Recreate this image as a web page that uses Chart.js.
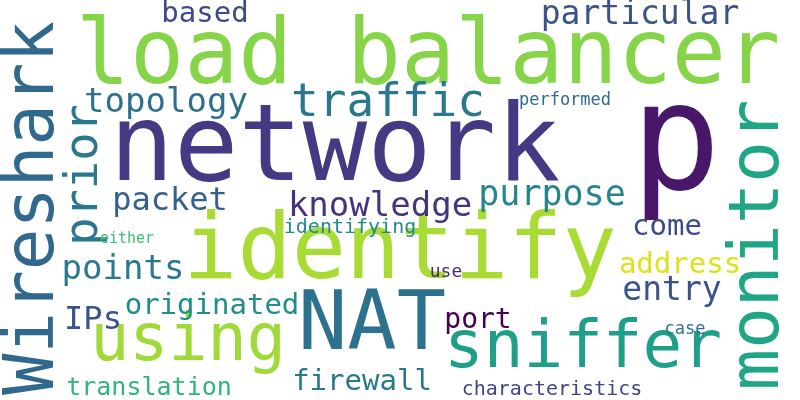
<!DOCTYPE html>
<html>
<head>
<meta charset="utf-8">
<script src="https://cdn.jsdelivr.net/npm/chart.js@4/dist/chart.umd.min.js"></script>
<style>
  html, body { margin: 0; padding: 0; background: #fff; }
  #wrap { width: 800px; height: 400px; }
</style>
</head>
<body>
<div id="wrap"><canvas id="cloud"></canvas></div>
<script>
// word cloud data: word, centre position, font size, vertical flag, colour
const words = ['load balancer', 'network', 'p', 'identify', 'NAT', 'using', 'sniffer', 'Wireshark', 'monitor',
  'traffic', 'particular', 'based', 'topology', 'prior', 'performed', 'purpose', 'knowledge', 'packet', 'come',
  'either', 'identifying', 'points', 'address', 'entry', 'originated', 'IPs', 'port', 'use', 'case', 'firewall',
  'translation', 'characteristics'];
const posX = [428, 335, 676, 400, 372, 188, 583, 35, 760,
  388, 640, 205, 166, 85, 565, 552, 380, 170, 667,
  127, 350, 123, 680, 672, 212, 93, 478, 446, 685, 362,
  149, 552];
const posY = [60, 152, 150, 255, 328, 343, 350, 208, 245,
  104, 15, 14, 103, 175, 101, 196, 207, 202, 227,
  239, 228, 270, 265, 291, 306, 321, 321, 272, 330, 382,
  388, 390];
const sizes = [90, 107, 150, 90, 82, 65, 66, 69, 69,
  46, 33, 29, 34, 47, 17, 35, 34, 32, 29,
  15, 20, 34, 29, 33, 29, 32, 28, 18, 17, 29,
  25, 20];
const vertical = [0, 0, 0, 0, 0, 0, 0, 1, 1,
  0, 0, 0, 0, 1, 0, 0, 0, 0, 0,
  0, 0, 0, 0, 0, 0, 0, 0, 0, 0, 0,
  0, 0];
const colors = ['#86d549', '#443983', '#481769', '#a8db34', '#2c728e', '#a0da39', '#1f9e89', '#31688e', '#21a685',
  '#2a788e', '#3b528b', '#3e4a89', '#2d708e', '#2a788e', '#2f6c8e', '#25848e', '#46337e', '#355f8d', '#3e4989',
  '#3dbc74', '#23898e', '#2a788e', '#dde318', '#3b528b', '#228c8d', '#3b528b', '#440154', '#482878', '#2c728e', '#2a788e',
  '#2fb47c', '#414487'];

const wordPlugin = {
  id: 'wordPlugin',
  afterDatasetsDraw(chart) {
    const ctx = chart.ctx;
    const meta = chart.getDatasetMeta(0);
    meta.data.forEach((pt, i) => {
      ctx.save();
      ctx.translate(pt.x, pt.y);
      if (vertical[i]) ctx.rotate(-Math.PI / 2);
      ctx.font = sizes[i] + 'px "DejaVu Sans Mono"';
      ctx.fillStyle = colors[i];
      ctx.textAlign = 'center';
      ctx.textBaseline = 'middle';
      ctx.fillText(words[i], 0, 0);
      ctx.restore();
    });
  }
};

new Chart(document.getElementById('cloud'), {
  type: 'scatter',
  data: {
    datasets: [{
      data: words.map((w, i) => ({ x: posX[i], y: posY[i] })),
      pointRadius: 0
    }]
  },
  options: {
    responsive: true,
    maintainAspectRatio: false,
    animation: false,
    layout: { padding: 0 },
    plugins: { legend: { display: false }, tooltip: { enabled: false } },
    scales: {
      x: { type: 'linear', min: 0, max: 800, display: false },
      y: { type: 'linear', min: 0, max: 400, reverse: true, display: false }
    }
  },
  plugins: [wordPlugin]
});
</script>
</body>
</html>
